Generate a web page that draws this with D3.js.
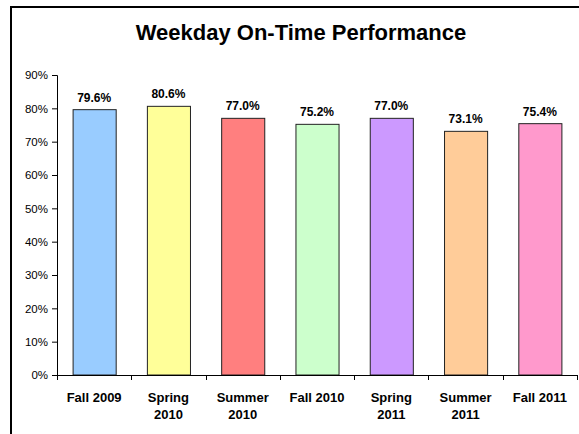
<!DOCTYPE html>
<html lang="en">
<head>
<meta charset="utf-8">
<title>Weekday On-Time Performance</title>
<script src="https://cdnjs.cloudflare.com/ajax/libs/d3/7.8.5/d3.min.js"></script>
<style>
	body { margin: 0; background: #fff; }
	svg { display: block; font-family: Arial, "Liberation Sans", sans-serif; }
</style>
</head>
<body>
<script>

var terms = ["Fall 2009", "Spring 2010", "Summer 2010", "Fall 2010", "Spring 2011", "Summer 2011", "Fall 2011"];
var onTime = [0.796, 0.806, 0.770, 0.752, 0.770, 0.731, 0.754];
var barColors = ["#99ccff", "#ffff99", "#ff7f7f", "#ccffcc", "#cc99ff", "#ffcc99", "#ff99cc"];
var yTicks = [0, 0.1, 0.2, 0.3, 0.4, 0.5, 0.6, 0.7, 0.8, 0.9];

var width = 579, height = 434;
var plotLeft = 57, plotRight = 577, plotTop = 75, plotBottom = 375;

var svg = d3.select("body").append("svg")
	.attr("width", width)
	.attr("height", height);

// outer frame (cut off at right/bottom)
svg.append("path")
	.attr("d", "M11,434 V7 H579")
	.attr("fill", "none")
	.attr("stroke", "#000")
	.attr("stroke-width", 2);

svg.append("text")
	.attr("x", 301)
	.attr("y", 39.5)
	.attr("text-anchor", "middle")
	.style("font-size", "22px")
	.style("font-weight", "bold")
	.text("Weekday On-Time Performance");

var x = d3.scaleBand()
	.domain(terms)
	.range([plotLeft, plotRight])
	.paddingInner(0.42)
	.paddingOuter(0.21);

var y = d3.scaleLinear()
	.domain([0, 0.9])
	.range([plotBottom, plotTop]);

// y axis
var yAxis = svg.append("g")
	.attr("transform", "translate(" + plotLeft + ",0)")
	.call(d3.axisLeft(y)
		.tickValues(yTicks)
		.tickSize(5)
		.tickPadding(4)
		.tickFormat(d3.format(".0%")));

yAxis.select(".domain").attr("stroke", "#000");
yAxis.selectAll("text").style("font-size", "11.5px").attr("fill", "#000");

// bars
svg.selectAll("rect.bar")
	.data(onTime)
	.enter()
	.append("rect")
	.attr("class", "bar")
	.attr("x", function(d, i){ return x(terms[i]) + 0.5; })
	.attr("y", function(d){ return y(d); })
	.attr("width", x.bandwidth())
	.attr("height", function(d){ return plotBottom - y(d); })
	.attr("fill", function(d, i){ return barColors[i]; })
	.attr("stroke", "#222")
	.attr("stroke-width", 1);

// value labels
svg.selectAll("text.val")
	.data(onTime)
	.enter()
	.append("text")
	.attr("class", "val")
	.attr("x", function(d, i){ return x(terms[i]) + x.bandwidth() / 2; })
	.attr("y", function(d){ return y(d) - 8; })
	.attr("text-anchor", "middle")
	.style("font-size", "12px")
	.style("font-weight", "bold")
	.text(function(d){ return (d * 100).toFixed(1) + "%"; });

// x axis line and boundary ticks
var step = (plotRight - plotLeft) / terms.length;
var xg = svg.append("g");
xg.append("line")
	.attr("x1", plotLeft).attr("x2", plotRight)
	.attr("y1", plotBottom + 0.5).attr("y2", plotBottom + 0.5)
	.attr("stroke", "#000");
xg.selectAll("line.tk")
	.data(d3.range(terms.length + 1))
	.enter()
	.append("line")
	.attr("class", "tk")
	.attr("x1", function(i){ return Math.round(plotLeft + i * step) + 0.5; })
	.attr("x2", function(i){ return Math.round(plotLeft + i * step) + 0.5; })
	.attr("y1", plotBottom)
	.attr("y2", plotBottom + 5)
	.attr("stroke", "#000");

// category labels (wrapped)
xg.selectAll("text.cat")
	.data(terms)
	.enter()
	.append("text")
	.attr("class", "cat")
	.attr("text-anchor", "middle")
	.style("font-size", "13px")
	.style("font-weight", "bold")
	.each(function(d){
		var lines = d.indexOf("Fall") === 0 ? [d] : d.split(" ");
		var cx = x(d) + x.bandwidth() / 2;
		d3.select(this).selectAll("tspan")
			.data(lines)
			.enter()
			.append("tspan")
			.attr("x", cx)
			.attr("y", function(l, k){ return 402 + k * 17; })
			.text(function(l){ return l; });
	});

</script>
</body>
</html>
